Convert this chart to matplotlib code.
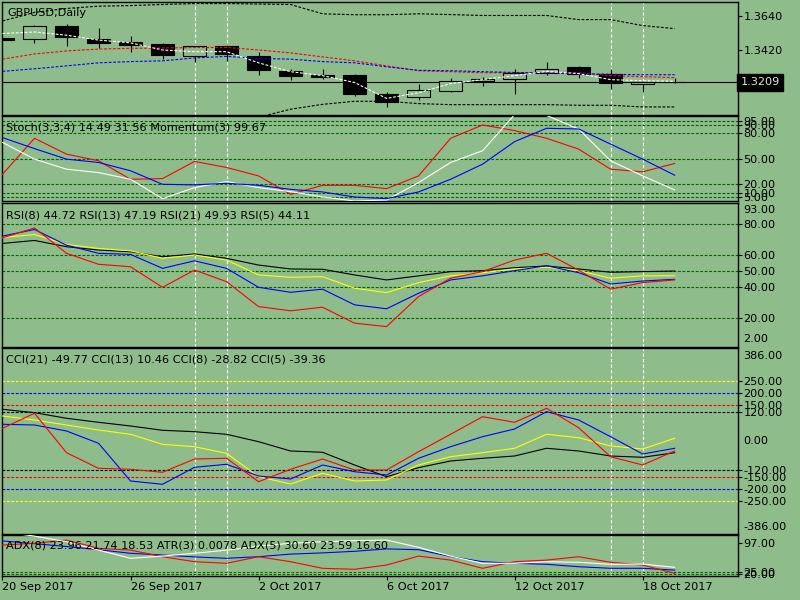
import matplotlib
matplotlib.use("Agg")
import matplotlib.pyplot as plt

# ---- data (one value per daily bar) ----
bar_dates = ["20 Sep 2017", "21 Sep", "22 Sep", "25 Sep", "26 Sep 2017", "27 Sep", "28 Sep", "29 Sep",
             "2 Oct 2017", "3 Oct", "4 Oct", "5 Oct", "6 Oct 2017", "9 Oct", "10 Oct", "11 Oct",
             "12 Oct 2017", "13 Oct", "16 Oct", "17 Oct", "18 Oct 2017", "19 Oct"]
open_ = [1.3497, 1.3493, 1.3575, 1.3491, 1.3472, 1.3459, 1.3383, 1.3446, 1.3383, 1.3284, 1.3258,
         1.3258, 1.3135, 1.3114, 1.3153, 1.3219, 1.3230, 1.3269, 1.3308, 1.3265, 1.3199, 1.3210]
high = [1.3499, 1.3581, 1.3588, 1.3567, 1.3511, 1.3467, 1.3447, 1.3450, 1.3407, 1.3297, 1.3297,
        1.3260, 1.3142, 1.3200, 1.3237, 1.3241, 1.3295, 1.3342, 1.3316, 1.3295, 1.3215, 1.3238]
low = [1.3484, 1.3467, 1.3448, 1.3431, 1.3407, 1.3362, 1.3342, 1.3351, 1.3258, 1.3226, 1.3232,
       1.3118, 1.3049, 1.3092, 1.3144, 1.3183, 1.3131, 1.3254, 1.3237, 1.3166, 1.3148, 1.3207]
close = [1.3486, 1.3580, 1.3506, 1.3467, 1.3454, 1.3390, 1.3446, 1.3396, 1.3286, 1.3247, 1.3245,
         1.3131, 1.3082, 1.3161, 1.3215, 1.3232, 1.3269, 1.3295, 1.3265, 1.3202, 1.3212, 1.3209]
bid = 1.3209

ma_white = [1.3528, 1.3538, 1.3517, 1.3485, 1.3467, 1.3420, 1.3409, 1.3409, 1.3336, 1.3278, 1.3252,
            1.3207, 1.3103, 1.3140, 1.3200, 1.3226, 1.3252, 1.3280, 1.3265, 1.3226, 1.3219, 1.3215]
ma_red = [1.3360, 1.3394, 1.3414, 1.3426, 1.3431, 1.3433, 1.3436, 1.3437, 1.3420, 1.3401, 1.3375,
          1.3349, 1.3316, 1.3284, 1.3278, 1.3271, 1.3271, 1.3273, 1.3271, 1.3252, 1.3245, 1.3239]
ma_blue = [1.3280, 1.3297, 1.3316, 1.3336, 1.3344, 1.3349, 1.3368, 1.3378, 1.3365, 1.3360, 1.3344,
           1.3336, 1.3310, 1.3287, 1.3284, 1.3278, 1.3273, 1.3268, 1.3265, 1.3261, 1.3258, 1.3258]
band_up = [1.3610, 1.3666, 1.3692, 1.3707, 1.3711, 1.3718, 1.3724, 1.3724, 1.3721, 1.3718, 1.3657,
           1.3651, 1.3651, 1.3657, 1.3652, 1.3646, 1.3646, 1.3646, 1.3619, 1.3619, 1.3580, 1.3560]
band_dn = [1.2880, 1.2885, 1.2895, 1.2905, 1.2915, 1.2925, 1.2940, 1.2955, 1.2980, 1.3032, 1.3064,
           1.3084, 1.3084, 1.3069, 1.3062, 1.3062, 1.3062, 1.3062, 1.3058, 1.3058, 1.3047, 1.3047]

stoch_main = [69.3, 49.6, 37.8, 33.8, 25.9, 3.1, 16.1, 23.2, 16.1, 11.4, 5.1, 0.4, 1.5, 22.0, 45.7,
              59.5, 102.0, 101.0, 85.1, 47.7, 29.9, 13.4]
stoch_signal = [74.9, 62.0, 49.6, 45.7, 35.9, 20.0, 19.3, 21.2, 18.8, 14.1, 11.0, 5.1, 3.1, 11.0, 25.9,
                43.7, 70.2, 85.9, 85.1, 67.3, 49.6, 30.7]
momentum = [31.8, 74.1, 55.5, 47.7, 25.9, 26.7, 46.9, 39.8, 29.9, 8.2, 18.8, 18.8, 14.9, 29.9, 74.1,
            89.8, 83.2, 74.1, 61.4, 37.8, 34.7, 44.5]
stoch_levels = [95, 90, 80, 50, 20, 10, 5]

rsi5 = [71.3, 77.6, 61.4, 54.4, 52.8, 39.7, 50.7, 43.3, 27.4, 24.7, 27.0, 16.8, 14.6, 33.8, 45.5,
        49.7, 57.1, 61.4, 50.7, 38.5, 42.7, 44.4]
rsi8 = [72.4, 76.6, 66.6, 61.4, 60.7, 51.8, 56.6, 51.8, 39.7, 36.5, 38.5, 28.5, 26.0, 35.9, 44.4,
        47.0, 50.3, 53.5, 49.0, 41.8, 43.7, 44.8]
rsi13 = [71.5, 73.4, 67.1, 64.5, 63.0, 58.2, 60.3, 57.1, 47.6, 46.1, 46.5, 39.1, 36.3, 42.7, 47.0,
         49.0, 51.4, 52.5, 50.3, 45.5, 47.0, 47.1]
rsi21 = [67.7, 69.6, 65.6, 63.5, 62.4, 59.2, 61.0, 58.2, 53.9, 51.4, 51.2, 47.6, 44.4, 47.0, 49.7,
         50.3, 52.2, 53.3, 51.4, 49.3, 49.7, 50.1]
rsi_levels = [80, 60, 50, 40, 20]

cci5 = [53.6, 116.0, -47.8, -112.6, -116.8, -129.3, -74.0, -71.1, -168.3, -116.8, -74.0, -119.7,
        -119.7, -43.6, 28.7, 101.8, 78.5, 136.7, 56.1, -64.4, -98.9, -40.7]
cci8 = [70.2, 67.3, 42.4, -8.7, -165.4, -179.1, -108.5, -96.0, -144.6, -157.1, -98.9, -126.8,
        -140.5, -71.1, -22.9, 18.7, 50.7, 122.6, 88.1, 18.7, -53.2, -29.5]
cci13 = [104.7, 88.1, 67.3, 46.5, 28.7, -12.9, -22.9, -50.3, -147.5, -177.9, -133.4, -165.4,
         -161.3, -98.9, -64.4, -47.8, -29.5, 28.7, 14.5, -19.9, -32.4, 12.0]
cci21 = [132.6, 118.5, 95.2, 78.5, 63.2, 45.3, 39.5, 28.7, -2.0, -40.7, -46.1, -98.9, -147.5,
         -110.0, -82.3, -71.1, -61.5, -29.5, -40.7, -61.5, -66.9, -47.8]
cci_levels = [250, 200, 150, 120, -120, -150, -200, -250]
cci_level_colors = ["yellow", "blue", "red", "black", "black", "red", "blue", "yellow"]

adx_main = [125, 114, 100, 79, 58.5, 64, 71, 79, 89, 96, 100, 102.5, 104, 86, 64, 46, 46, 50, 48.5,
            43.5, 44, 36]
adx_plus = [102, 95, 88, 80, 71, 66.7, 62, 58.5, 62.5, 69, 72, 76, 82, 80, 63, 50, 46, 43.5, 37.5,
            33.5, 33.5, 29]
adx_minus = [91.7, 96, 104, 83.5, 79, 62.5, 50, 46, 62.5, 50, 33.5, 31, 41.7, 64, 54, 33.5, 50, 54,
             62.5, 48.5, 41.7, 21]
atr = [37, 24, 21, 21, 21, 21, 21, 21, 21, 21, 21, 21, 21, 24, 29, 30, 30, 28, 25, 23, 22, 21]
adx_levels = [25, 20]

date_ticks = [0, 4, 8, 12, 16, 20]
marked_bars = [6, 7, 19, 20]

# ---- styling ----
BG = "#8fbc8b"
FS = 8.1
DASH = (0, (2.5, 1.5))
LW = 0.8

fig = plt.figure(figsize=(8, 6), dpi=100, facecolor=BG)
idx = list(range(len(close)))


def panel(top, bottom):
    ax = fig.add_axes([2.3 / 800, 1 - bottom / 600, (738 - 2.3) / 800, (bottom - top) / 600])
    ax.set_facecolor(BG)
    for s in ax.spines.values():
        s.set_color("black")
        s.set_linewidth(1)
    ax.set_xlim(-0.006, 22.98)
    ax.yaxis.tick_right()
    ax.tick_params(axis="y", direction="out", length=3, width=0.8, labelsize=FS, pad=1, colors="black")
    ax.set_xticks([])
    for b in marked_bars:
        ax.axvline(b, color="white", ls=(0, (3, 2)), lw=LW, zorder=1)
    return ax


def side_label(y_px, text):
    fig.text(743 / 800, 1 - y_px / 600, text, fontsize=FS, va="center", ha="left")


def header(y_px, text):
    fig.text(6 / 800, 1 - y_px / 600, text, fontsize=FS, va="center", ha="left", zorder=0)


# main price panel
ax = panel(2.3, 114.5)
ax.set_ylim(1.29975, 1.37324)
ax.plot(idx, band_up, color="black", ls=DASH, lw=LW, zorder=3)
ax.plot(idx, band_dn, color="black", ls=DASH, lw=LW, zorder=3)
ax.axhline(bid, color="black", lw=LW, zorder=1)
ax.vlines(idx, low, high, color="black", lw=LW, zorder=2)
bottoms = [min(o, c) for o, c in zip(open_, close)]
heights = [max(abs(c - o), 0.00005) for o, c in zip(open_, close)]
faces = ["black" if c < o else BG for o, c in zip(open_, close)]
ax.bar(idx, heights, bottom=bottoms, width=0.7, color=faces, edgecolor="black", linewidth=LW, zorder=2)
ax.plot(idx, ma_red, color="red", ls=DASH, lw=LW, zorder=4)
ax.plot(idx, ma_blue, color="blue", ls=DASH, lw=LW, zorder=4)
ax.plot(idx, ma_white, color="white", ls=DASH, lw=LW, zorder=5)
ax.set_yticks([1.3640, 1.3420])
ax.set_yticklabels(["1.3640", "1.3420"])
ax.text(1.0035, bid, "1.3209", transform=ax.get_yaxis_transform(), fontsize=FS, va="center", ha="left",
        color="#d8ecd4", clip_on=False,
        bbox=dict(boxstyle="square,pad=0.3", facecolor="black", edgecolor="black"))
fig.text(7 / 800, 1 - 12.5 / 600, "GBPUSD,Daily", fontsize=FS, va="center", ha="left")

# stochastic / momentum
ax = panel(116.3, 201.3)
ax.set_ylim(0, 100)
for lv in stoch_levels:
    ax.axhline(lv, color="#006400", ls=DASH, lw=LW, zorder=1)
ax.plot(idx, momentum, color="red", lw=LW, zorder=3)
ax.plot(idx, stoch_main, color="white", lw=LW, zorder=3)
ax.plot(idx, stoch_signal, color="blue", lw=LW, zorder=3)
ax.set_yticks(stoch_levels)
ax.set_yticklabels(["%.2f" % v for v in stoch_levels])
header(127, "Stoch(3,3,4) 14.49 31.56 Momentum(3) 99.67")

# RSI
ax = panel(203.5, 346.5)
ax.set_ylim(1.9, 93.2)
for lv in rsi_levels:
    ax.axhline(lv, color="#006400", ls=DASH, lw=LW, zorder=1)
ax.plot(idx, rsi21, color="black", lw=LW, zorder=3)
ax.plot(idx, rsi13, color="yellow", lw=LW, zorder=3)
ax.plot(idx, rsi8, color="blue", lw=LW, zorder=3)
ax.plot(idx, rsi5, color="red", lw=LW, zorder=3)
ax.set_yticks(rsi_levels)
ax.set_yticklabels(["%.2f" % v for v in rsi_levels])
side_label(210, "93.00")
side_label(339.5, "2.00")
header(215, "RSI(8) 44.72 RSI(13) 47.19 RSI(21) 49.93 RSI(5) 44.11")

# CCI
ax = panel(348.3, 533.6)
ax.set_ylim(-384, 386)
for lv, col in zip(cci_levels, cci_level_colors):
    ax.axhline(lv, color=col, ls=DASH, lw=LW, zorder=1)
ax.plot(idx, cci21, color="black", lw=LW, zorder=3)
ax.plot(idx, cci13, color="yellow", lw=LW, zorder=3)
ax.plot(idx, cci8, color="blue", lw=LW, zorder=3)
ax.plot(idx, cci5, color="red", lw=LW, zorder=3)
ax.set_yticks(cci_levels)
ax.set_yticklabels(["%.2f" % v for v in cci_levels])
side_label(356, "386.00")
side_label(441.5, "0.00")
side_label(526.5, "-386.00")
header(359.5, "CCI(21) -49.77 CCI(13) 10.46 CCI(8) -28.82 CCI(5) -39.36")

# ADX / ATR
ax = panel(535.3, 575.7)
ax.set_ylim(15, 116)
for lv in adx_levels:
    ax.axhline(lv, color="#006400", ls=DASH, lw=LW, zorder=1)
ax.plot(idx, atr, color="#9acd32", ls=(0, (1, 2)), lw=LW, zorder=2)
ax.plot(idx, adx_plus, color="blue", lw=LW, zorder=3)
ax.plot(idx, adx_minus, color="red", lw=LW, zorder=3)
ax.plot(idx, adx_main, color="white", lw=LW, zorder=3)
ax.set_yticks([97] + adx_levels)
ax.set_yticklabels(["97.00", "25.00", "20.00"])
ax.set_xticks(date_ticks)
ax.set_xticklabels([bar_dates[i] for i in date_ticks], ha="left", fontsize=FS)
ax.tick_params(axis="x", direction="out", length=3, width=0.8, pad=1.5, colors="black")
header(545.5, "ADX(8) 23.96 21.74 18.53 ATR(3) 0.0078 ADX(5) 30.60 23.59 16.60")

fig.savefig("out.png", dpi=100, facecolor=BG)
